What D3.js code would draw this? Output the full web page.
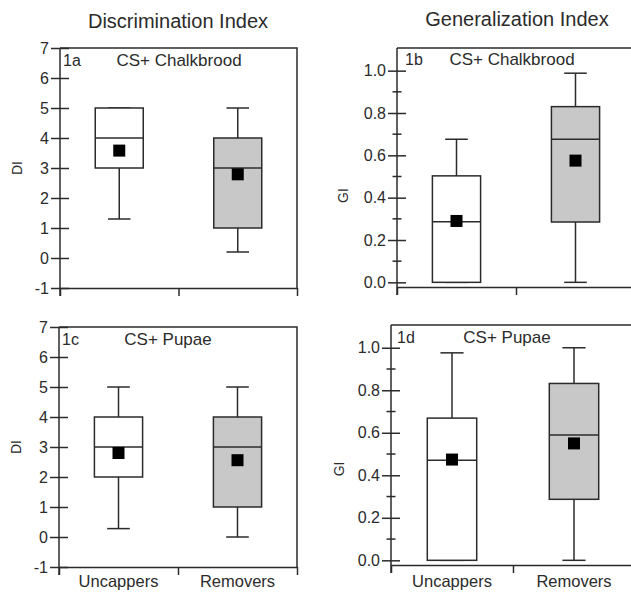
<!DOCTYPE html>
<html>
<head>
<meta charset="utf-8">
<script src="https://cdn.jsdelivr.net/npm/d3@7"></script>
<style>
  body { margin: 0; background: #fff; }
  svg { display: block; font-family: Arial, "Liberation Sans", sans-serif; }
  .tick text { fill: #2b2b2b; }
</style>
</head>
<body>
<main></main>
<script>
// Data
// box stats per group, in this order: min, q1, median, q3, max, mean
const groups = ['Uncappers', 'Removers']
const di_chalkbrood = [[1.3, 3, 4, 5, 5, 3.58], [0.2, 1, 3, 4, 5, 2.79]]
const di_pupae = [[0.28, 2, 3, 4, 5, 2.8], [0, 1, 3, 4, 5, 2.56]]
const gi_chalkbrood = [[0, 0, 0.286, 0.503, 0.676, 0.29], [0, 0.285, 0.676, 0.83, 0.988, 0.575]]
const gi_pupae = [[0, 0, 0.471, 0.669, 0.976, 0.474], [0, 0.287, 0.589, 0.832, 1.0, 0.55]]

const di_ticks = [-1, 0, 1, 2, 3, 4, 5, 6, 7]
const gi_ticks = [0, 0.2, 0.4, 0.6, 0.8, 1.0]
const gi_minor = [0.1, 0.3, 0.5, 0.7, 0.9]

const titles = ['Discrimination Index', 'Generalization Index']

function GeneratePlot() {
    // Configuration
    const total_width = 631
    const height = 593
    const ink = '#2b2b2b'
    const fills = ['#ffffff', '#c8c8c8']
    const intFmt = d => String(d)
    const decFmt = d => d.toFixed(1)
    const groupsY = 587

    const panels = [
        {tag: '1a', name: 'CS+ Chalkbrood', data: di_chalkbrood, label: 'DI', domain: [-1, 7], ticks: di_ticks, minor: [], fmt: intFmt,
         left: 60, right: 297, top: 48, bottom: 288, tagX: 63, nameX: 179, textY: 66, labelAt: 3, labelDx: -38, groupsShown: false},
        {tag: '1b', name: 'CS+ Chalkbrood', data: gi_chalkbrood, label: 'GI', domain: [-0.022, 1.107], ticks: gi_ticks, minor: gi_minor, fmt: decFmt,
         left: 397, right: 635, top: 48, bottom: 287, tagX: 405, nameX: 512, textY: 65, labelAt: 0.41, labelDx: -49, groupsShown: false},
        {tag: '1c', name: 'CS+ Pupae', data: di_pupae, label: 'DI', domain: [-1, 7], ticks: di_ticks, minor: [], fmt: intFmt,
         left: 59, right: 297, top: 327, bottom: 567, tagX: 62, nameX: 168, textY: 345, labelAt: 3, labelDx: -38, groupsShown: true},
        {tag: '1d', name: 'CS+ Pupae', data: gi_pupae, label: 'GI', domain: [-0.022, 1.107], ticks: gi_ticks, minor: gi_minor, fmt: decFmt,
         left: 391, right: 635, top: 325, bottom: 565, tagX: 397, nameX: 507, textY: 343, labelAt: 0.43, labelDx: -47, groupsShown: true}
    ]

    const svg = d3.select('main')
        .append('svg')
        .attr('width', total_width)
        .attr('height', height)

    // Titles
    svg.selectAll('text.title')
        .data(titles)
        .enter()
        .append('text')
        .classed('title', true)
        .attr('x', (d, i) => i === 0 ? 178 : 517)
        .attr('y', (d, i) => i === 0 ? 28 : 26)
        .attr('text-anchor', 'middle')
        .attr('font-size', 20)
        .attr('fill', ink)
        .text(d => d)

    const panel = (p) => {
        const g = svg.append('g')
        const y = d3.scaleLinear().domain(p.domain).range([p.bottom, p.top])
        const x = d3.scaleBand().domain(groups).range([p.left, p.right])
        const edges = d3.scaleLinear().domain([0, groups.length]).range([p.left, p.right])
        const bw = x.bandwidth()
        const boxW = bw * 0.405
        const capW = bw * 0.19

        // frame: top and right
        g.append('path')
            .attr('d', `M${p.left},${p.top}H${p.right}V${p.bottom}`)
            .attr('fill', 'none')
            .attr('stroke', ink)
            .attr('stroke-width', 1.5)

        // bottom axis, ticks on group edges
        const xAxis = g.append('g')
            .attr('transform', `translate(0,${p.bottom})`)
            .call(d3.axisBottom(edges).tickValues(d3.range(groups.length + 1)).tickSize(8).tickSizeOuter(0).tickFormat(''))
        xAxis.select('.domain').attr('stroke', ink).attr('stroke-width', 1.5)
        xAxis.selectAll('.tick line').attr('stroke', ink).attr('stroke-width', 1.5)

        // left axis, ticks cross the line
        const yAxis = g.append('g')
            .attr('transform', `translate(${p.left},0)`)
            .call(d3.axisLeft(y).tickValues(p.ticks).tickSize(9).tickPadding(2).tickFormat(p.fmt))
        yAxis.select('.domain').remove()
        yAxis.selectAll('.tick line').attr('x1', 9).attr('stroke', ink).attr('stroke-width', 1.5)
        yAxis.selectAll('.tick text').attr('font-size', 16).attr('font-family', 'Arial, "Liberation Sans", sans-serif')
        g.append('line')
            .attr('x1', p.left).attr('x2', p.left)
            .attr('y1', p.top).attr('y2', p.bottom + 8)
            .attr('stroke', ink).attr('stroke-width', 1.5)

        g.append('g')
            .selectAll('line')
            .data(p.minor)
            .enter()
            .append('line')
            .attr('x1', p.left - 4.5).attr('x2', p.left + 4.5)
            .attr('y1', y).attr('y2', y)
            .attr('stroke', ink).attr('stroke-width', 1.5)

        // y label
        g.append('text')
            .attr('transform', `translate(${p.left + p.labelDx},${y(p.labelAt)}) rotate(-90)`)
            .attr('text-anchor', 'middle')
            .attr('font-size', 14)
            .attr('fill', ink)
            .text(p.label)

        // panel tag and condition
        g.append('text')
            .attr('x', p.tagX).attr('y', p.textY)
            .attr('font-size', 16).attr('fill', ink)
            .text(p.tag)
        g.append('text')
            .attr('x', p.nameX).attr('y', p.textY)
            .attr('text-anchor', 'middle')
            .attr('font-size', 17).attr('fill', ink)
            .text(p.name)

        // Box Plot
        const box = g.selectAll('g.box')
            .data(p.data)
            .enter()
            .append('g')
            .classed('box', true)
            .attr('transform', (d, i) => `translate(${x(groups[i]) + bw / 2},0)`)

        box.append('line')
            .attr('x1', 0).attr('x2', 0)
            .attr('y1', d => y(d[0])).attr('y2', d => y(d[4]))
            .attr('stroke', ink).attr('stroke-width', 1.5)
        box.append('line')
            .attr('x1', -capW / 2).attr('x2', capW / 2)
            .attr('y1', d => y(d[0])).attr('y2', d => y(d[0]))
            .attr('stroke', ink).attr('stroke-width', 1.5)
        box.append('line')
            .attr('x1', -capW / 2).attr('x2', capW / 2)
            .attr('y1', d => y(d[4])).attr('y2', d => y(d[4]))
            .attr('stroke', ink).attr('stroke-width', 1.5)
        box.append('rect')
            .attr('x', -boxW / 2)
            .attr('width', boxW)
            .attr('y', d => y(d[3]))
            .attr('height', d => y(d[1]) - y(d[3]))
            .attr('fill', (d, i) => fills[i])
            .attr('stroke', ink).attr('stroke-width', 1.5)
        box.append('line')
            .attr('x1', -boxW / 2).attr('x2', boxW / 2)
            .attr('y1', d => y(d[2])).attr('y2', d => y(d[2]))
            .attr('stroke', ink).attr('stroke-width', 1.5)
        box.append('rect')
            .attr('x', -6).attr('width', 12)
            .attr('y', d => y(d[5]) - 6).attr('height', 12)
            .attr('fill', '#000')

        if (p.groupsShown) {
            g.selectAll('text.group')
                .data(groups)
                .enter()
                .append('text')
                .classed('group', true)
                .attr('x', d => x(d) + bw / 2)
                .attr('y', groupsY)
                .attr('text-anchor', 'middle')
                .attr('font-size', 16.5)
                .attr('fill', ink)
                .text(d => d)
        }
    }

    panels.forEach(panel)
}

GeneratePlot()
</script>
</body>
</html>
